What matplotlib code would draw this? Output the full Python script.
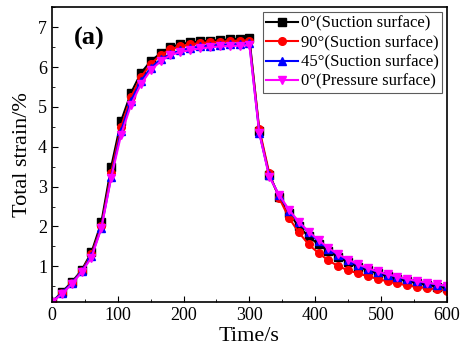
import numpy as np
import matplotlib
matplotlib.use("Agg")
import matplotlib.pyplot as plt
from matplotlib.ticker import MultipleLocator

plt.rcParams['font.family'] = ['Liberation Serif', 'DejaVu Serif']

time_s = np.arange(0, 601, 15)

# loading (0-300 s) then unloading (315-600 s)
strain_0_suction = [0.1, 0.35, 0.6, 0.9, 1.35, 2.1, 3.5, 4.65, 5.35, 5.85, 6.15, 6.35, 6.5, 6.58,
                    6.62, 6.65, 6.67, 6.68, 6.7, 6.72, 6.73,
                    4.4, 3.3, 2.75, 2.33, 2.0, 1.75, 1.55, 1.38, 1.23, 1.1, 0.99, 0.9, 0.82, 0.75,
                    0.69, 0.63, 0.58, 0.53, 0.49, 0.45]
strain_90_suction = [0.1, 0.33, 0.58, 0.88, 1.3, 2.0, 3.35, 4.5, 5.25, 5.75, 6.08, 6.3, 6.45, 6.52,
                     6.57, 6.6, 6.62, 6.63, 6.65, 6.66, 6.67,
                     4.45, 3.35, 2.72, 2.22, 1.85, 1.55, 1.33, 1.15, 1.0, 0.9, 0.82, 0.75, 0.68, 0.62,
                     0.57, 0.52, 0.48, 0.45, 0.42, 0.39]
strain_45_suction = [0.1, 0.33, 0.57, 0.87, 1.25, 1.97, 3.25, 4.4, 5.15, 5.65, 5.98, 6.2, 6.33, 6.42,
                     6.48, 6.52, 6.54, 6.56, 6.57, 6.58, 6.6,
                     4.35, 3.28, 2.78, 2.4, 2.1, 1.85, 1.63, 1.44, 1.28, 1.15, 1.03, 0.94, 0.86, 0.79,
                     0.73, 0.67, 0.62, 0.58, 0.54, 0.5]
strain_0_pressure = [0.1, 0.3, 0.55, 0.85, 1.22, 1.95, 3.22, 4.3, 5.05, 5.57, 5.92, 6.15, 6.3, 6.38,
                     6.43, 6.47, 6.5, 6.52, 6.53, 6.54, 6.55,
                     4.35, 3.25, 2.8, 2.42, 2.12, 1.87, 1.66, 1.46, 1.3, 1.17, 1.05, 0.95, 0.87, 0.8,
                     0.74, 0.68, 0.63, 0.59, 0.55, 0.51]

labels = ["0°(Suction surface)", "90°(Suction surface)", "45°(Suction surface)", "0°(Pressure surface)"]
colors = ["black", "red", "blue", "magenta"]
markers = ["s", "o", "^", "v"]

fig = plt.figure(figsize=(4.64, 3.55), dpi=100)
ax = fig.add_axes([0.112, 0.149, 0.851, 0.830])

series = [strain_0_suction, strain_90_suction, strain_45_suction, strain_0_pressure]
for s, lab, c, m in zip(series, labels, colors, markers):
    ax.plot(time_s, s, color=c, marker=m, markersize=5.5, linewidth=1.5, label=lab)

ax.set_xlim(0, 600)
ax.set_ylim(0.1, 7.5)
ax.xaxis.set_major_locator(MultipleLocator(100))
ax.xaxis.set_minor_locator(MultipleLocator(50))
ax.yaxis.set_major_locator(MultipleLocator(1))
ax.yaxis.set_minor_locator(MultipleLocator(0.5))
ax.tick_params(which='both', direction='in', labelsize=13)
ax.tick_params(which='major', length=4)
ax.tick_params(which='minor', length=2)
for sp in ax.spines.values():
    sp.set_linewidth(1.2)

ax.set_xlabel("Time/s", fontsize=16, labelpad=2)
ax.set_ylabel("Total strain/%", fontsize=16, labelpad=4)
ax.text(0.055, 0.935, "(a)", transform=ax.transAxes, fontsize=19, fontweight='bold',
        va='top', ha='left')

leg = ax.legend(loc='upper right', fontsize=12, frameon=True, fancybox=False,
                borderpad=0.2, labelspacing=0.2, handlelength=1.9, handletextpad=0.15,
                borderaxespad=0.3)
leg.get_frame().set_edgecolor('#333333')
leg.get_frame().set_linewidth(0.8)

fig.savefig("out.png", dpi=100)
